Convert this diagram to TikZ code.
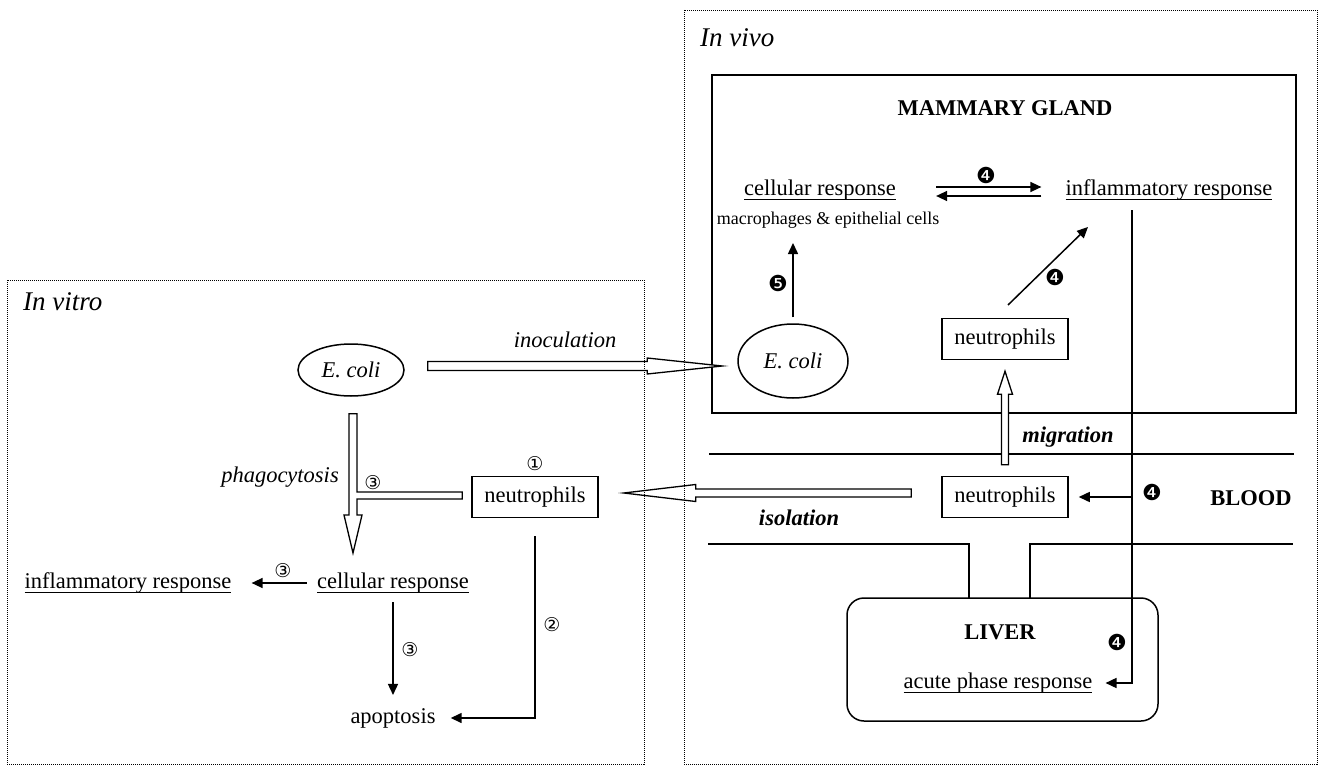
\documentclass[tikz,border=0pt]{standalone}
\usepackage{fontspec}
\setmainfont{Liberation Serif}
\newfontfamily\numfont{DejaVu Sans}
\usetikzlibrary{arrows.meta, calc, positioning, shapes.geometric}
\newcommand{\undl}[1]{\setbox0=\hbox{#1}\rlap{\copy0}\rule[-4.5pt]{\wd0}{1.4pt}}

\begin{document}
\begin{tikzpicture}[x = 1pt, y = -1pt,
    txt/.style = {inner sep = 0pt, font = \fontsize{22.5}{27}\selectfont},
    head/.style = {txt, font = \fontsize{22.5}{27}\selectfont\bfseries},
    act/.style = {txt, font = \fontsize{22.5}{27}\selectfont\itshape},
    actb/.style = {txt, font = \fontsize{22.5}{27}\selectfont\bfseries\itshape},
    place/.style = {inner sep = 0pt, font = \fontsize{27}{32}\selectfont\itshape, anchor = base west},
    small/.style = {inner sep = 0pt, font = \fontsize{18}{22}\selectfont},
    num/.style = {inner sep = 0pt, font = \numfont\fontsize{19}{20}\selectfont},
    numb/.style = {inner sep = 0pt, font = \numfont\fontsize{22}{24}\selectfont},
    cellbox/.style = {txt, draw, line width = 1.5pt, minimum width = 126pt, minimum height = 41pt},
    bug/.style = {act, draw, ellipse, line width = 1.5pt},
    wall/.style = {draw, line width = 1.5pt},
    frame/.style = {draw, line width = 0.9pt, dash pattern = on 1pt off 1pt},
    link/.style = {line width = 1.5pt, -{Triangle[length = 11pt, width = 10pt]}},
    hollow/.style = {draw, fill = white, line width = 1.3pt, line join = miter}]
\useasboundingbox (0,0) rectangle (1320,765);

\node[place] (vitro) at (23,310) {In vitro};
\node[place] (vivo) at (700,47) {In vivo};

\draw[wall] (712,75) rectangle (1296,413);
\draw[wall] (709,454) -- (1294,454);
\draw[wall] (708,544) -- (969,544) -- (969,598);
\draw[wall] (1030,598) -- (1030,544) -- (1293,544);
\draw[wall, rounded corners = 17pt] (847,598) rectangle (1158,721);

\node[head] (gland) at (1005,108) {MAMMARY GLAND};
\node[txt] (mcell) at (820,190) {\undl{cellular response}};
\node[small] (macro) at (828,220) {macrophages \& epithelial cells};
\node[txt] (minfl) at (1169,190) {\undl{inflammatory response}};
\node[bug, minimum width = 110pt, minimum height = 74pt] (rcoli) at (793,361) {E. coli};
\node[cellbox] (mneu) at (1005,339) {neutrophils};
\node[cellbox] (bneu) at (1005,497) {neutrophils};
\node[head] (blood) at (1251,498) {BLOOD};
\node[head] (liver) at (1000,632) {LIVER};
\node[txt] (acute) at (998,683) {\undl{acute phase response}};
\node[actb] (migr) at (1068,437) {migration};
\node[actb] (isol) at (799,518) {isolation};
\node[act] (inoc) at (565,340) {inoculation};

\node[bug, minimum width = 106pt, minimum height = 52pt] (lcoli) at (351,370) {E. coli};
\node[cellbox] (lneu) at (535,497) {neutrophils};
\node[act] (phago) at (280,477) {phagocytosis};
\node[txt] (lcell) at (393,583) {\undl{cellular response}};
\node[txt] (linfl) at (128,583) {\undl{inflammatory response}};
\node[txt] (apop) at (393,718) {apoptosis};

\node[num, above = 5pt of lneu] (n1) {①};
\node[num] (n2) at (552,625) {②};
\node[num] (n3a) at (373,483) {③};
\node[num] (n3b) at (283,571) {③};
\node[num] (n3c) at (410,650) {③};
\node[numb] (n4a) at (986,175) {❹};
\node[numb] (n4b) at (1055,277) {❹};
\node[numb] (n4c) at (1152,492) {❹};
\node[numb] (n4d) at (1117,642) {❹};
\node[numb] (n5) at (778,283) {❺};

\coordinate (drop) at (1132,210);
\coordinate (fivetip) at (793,243);
\coordinate (diagA) at (1008,305);
\coordinate (diagB) at (1088,227);
\coordinate (inoB) at ($(rcoli.west)+(-15,5)$);
\coordinate (inoA) at ($(lcoli.east |- inoB)+(23,0)$);
\coordinate (isoA) at ($(bneu.west)+(-30,-4)$);
\coordinate (isoB) at ($(lneu.east)+(25,-4)$);
\coordinate (migA) at ($(bneu.north)+(0,-11)$);
\coordinate (migB) at ($(mneu.south)+(0,11)$);
\coordinate (phaA) at ($(lcoli.south)+(2,17)$);
\coordinate (phaB) at (phaA |- 0,553);
\coordinate (phaC) at ($(lneu.west)+(-9,-1.5)$);
\coordinate (phaJ) at (phaA |- phaC);

\draw[link] ([xshift = 40pt, yshift = 3pt]mcell.east) -- ([xshift = -24pt, yshift = 3pt]minfl.west);
\draw[link] ([xshift = -24pt, yshift = -6pt]minfl.west) -- ([xshift = 40pt, yshift = -6pt]mcell.east);
\draw[link] ([yshift = 6pt]rcoli.north) -- (fivetip);
\draw[link] (diagA) -- (diagB);
\draw[link] (drop) |- ([xshift = 13pt]acute.east);
\draw[link] (drop |- bneu.east) -- ([xshift = 10pt]bneu.east);
\draw[link] ([xshift = -10pt]lcell.west) -- ([xshift = 20pt]linfl.east);
\draw[link] ([yshift = -9pt]lcell.south) -- ([yshift = 13pt]apop.north);
\draw[link] ([yshift = -18pt]lneu.south) |- ([xshift = 15pt]apop.east);

\draw[hollow] ($(inoA)+(0,-4.5)$) -- ($(inoB)+(-75,-4.5)$) -- ($(inoB)+(-75,-8)$) -- (inoB)
    -- ($(inoB)+(-75,8)$) -- ($(inoB)+(-75,4.5)$) -- ($(inoA)+(0,4.5)$) -- cycle;
\draw[hollow] ($(isoA)+(0,-4)$) -- ($(isoB)+(72,-4)$) -- ($(isoB)+(72,-8.5)$) -- (isoB)
    -- ($(isoB)+(72,8.5)$) -- ($(isoB)+(72,4)$) -- ($(isoA)+(0,4)$) -- cycle;
\draw[hollow] ($(migA)+(-3.5,0)$) -- ($(migB)+(-3.5,23)$) -- ($(migB)+(-7.5,23)$) -- (migB)
    -- ($(migB)+(7.5,23)$) -- ($(migB)+(3.5,23)$) -- ($(migA)+(3.5,0)$) -- cycle;
\draw[hollow] ($(phaA)+(-4,0)$) -- ($(phaA)+(4,0)$) -- ($(phaJ)+(4,-3.5)$) -- ($(phaC)+(0,-3.5)$)
    -- ($(phaC)+(0,3.5)$) -- ($(phaJ)+(4,3.5)$) -- ($(phaB)+(4,-38)$) -- ($(phaB)+(9,-38)$)
    -- (phaB) -- ($(phaB)+(-9,-38)$) -- ($(phaB)+(-4,-38)$) -- cycle;

\draw[frame] (7,280) rectangle (644,764);
\draw[frame] (684,10) rectangle (1317,764);
\end{tikzpicture}
\end{document}
